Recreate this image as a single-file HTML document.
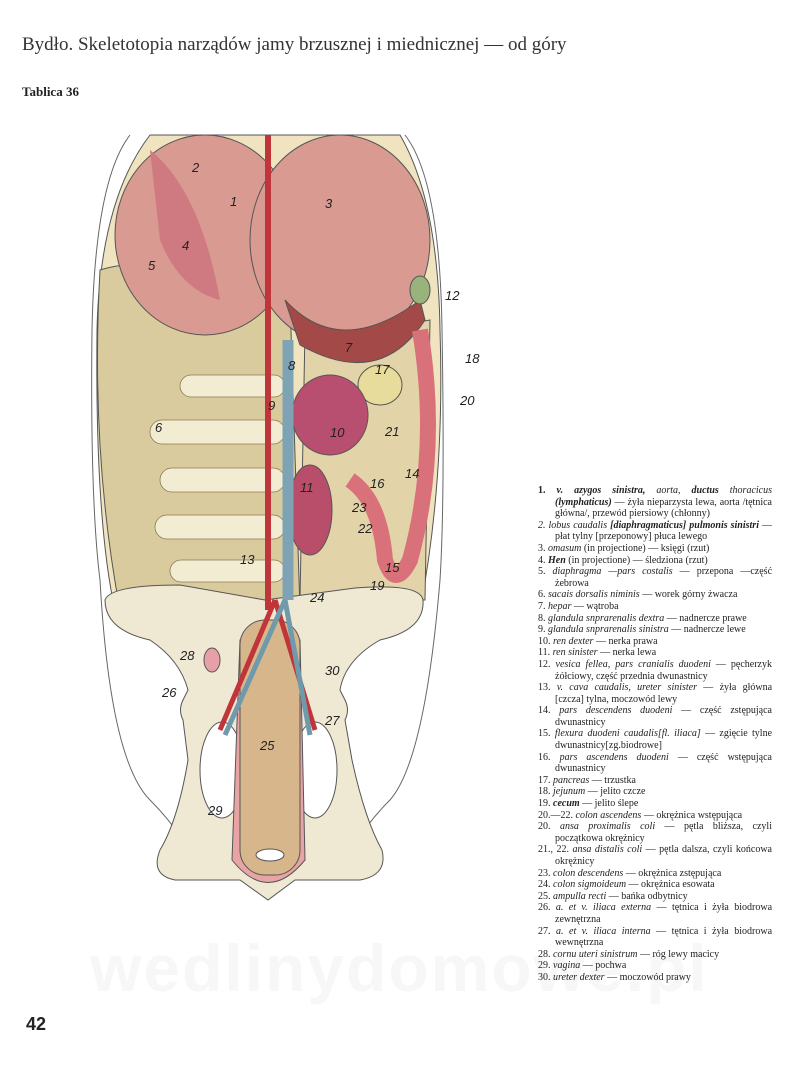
<!DOCTYPE html>
<html><head><meta charset="utf-8"><style>
body{margin:0;width:800px;height:1067px;background:#fff;position:relative;overflow:hidden;font-family:"Liberation Serif",serif;color:#222}
.t{position:absolute;left:22px;top:34px;font-size:19px;color:#333}
.tb{position:absolute;left:22px;top:84px;font-size:13px;font-weight:bold}
.pg{position:absolute;left:26px;top:1014px;font:bold 18px "Liberation Sans",sans-serif}
.lg{position:absolute;left:538px;top:485px;width:234px;font-size:10px;line-height:11.6px;text-align:justify}
.lg div{padding-left:17px;text-indent:-17px}
.wm{position:absolute;left:90px;top:930px;font:bold 66px "Liberation Sans",sans-serif;color:#f7f7f7;letter-spacing:2px}
</style></head><body>
<div class="wm">wedlinydomowe.pl</div>
<div class="t">Bydło. Skeletotopia narządów jamy brzusznej i miednicznej — od góry</div>
<div class="tb">Tablica 36</div>
<svg style="position:absolute;left:0;top:0" width="800" height="1067">
<g fill="none" stroke="#666" stroke-width="1">
<path d="M130 135 Q95 180 92 330 Q90 500 100 580 Q110 760 150 800 Q190 840 200 880"/>
<path d="M405 135 Q440 180 442 330 Q445 500 440 580 Q425 760 390 800 Q350 840 340 880"/>
</g>
<g stroke="#555" stroke-width="1">
<path d="M150 135 Q100 200 97 330 Q95 520 115 610 L420 610 Q445 480 440 330 Q438 200 400 135 Z" fill="#efe3c0"/>
<path d="M100 270 Q160 250 290 300 L300 610 L120 610 Q90 450 100 270Z" fill="#d9cb9e"/>
<g fill="#f2ecd2" stroke="#8a7a55" stroke-width="0.8">
<rect x="180" y="375" width="105" height="22" rx="11"/>
<rect x="150" y="420" width="135" height="24" rx="12"/>
<rect x="160" y="468" width="125" height="24" rx="12"/>
<rect x="155" y="515" width="130" height="24" rx="12"/>
<rect x="170" y="560" width="115" height="22" rx="11"/>
</g>
<path d="M305 330 Q380 330 430 320 L425 600 L300 600Z" fill="#e3d3a8"/>
<ellipse cx="205" cy="235" rx="90" ry="100" fill="#d99a92"/>
<ellipse cx="340" cy="240" rx="90" ry="105" fill="#d99a92"/>
<path d="M285 300 Q340 360 420 300 L425 320 Q380 390 300 345Z" fill="#a34a48"/>
<path d="M150 150 Q200 190 220 300 Q180 290 160 240Z" fill="#cf7a80" stroke="none"/>
<ellipse cx="380" cy="385" rx="22" ry="20" fill="#e8dc9c"/>
<ellipse cx="330" cy="415" rx="38" ry="40" fill="#b84e70"/>
<ellipse cx="310" cy="510" rx="22" ry="45" fill="#b84e6a"/>
<path d="M420 330 Q440 450 410 560 Q395 590 385 560 Q380 500 350 480" fill="none" stroke="#d9717a" stroke-width="16"/>
<ellipse cx="420" cy="290" rx="10" ry="14" fill="#9ab37c"/>
<path d="M105 600 Q110 585 180 585 L265 600 L355 588 Q420 583 423 600 Q425 630 380 640 Q345 660 340 690 L345 700 Q350 710 345 720 L352 760 Q365 820 382 850 Q388 875 360 880 L295 880 L268 900 L240 880 L175 880 Q150 875 160 850 Q178 820 188 760 L183 720 Q178 710 183 700 L188 690 Q180 660 150 640 Q105 630 105 600Z" fill="#efe8d3"/>
<ellipse cx="222" cy="770" rx="22" ry="48" fill="#fff"/>
<ellipse cx="315" cy="770" rx="22" ry="48" fill="#fff"/>
<path d="M240 640 L232 860 Q268 905 305 860 L300 640Z" fill="#e8a4a4"/>
<rect x="240" y="620" width="60" height="255" rx="25" fill="#d8b68c"/>
<path d="M268 135 L268 610" stroke="#c0353a" stroke-width="6"/>
<path d="M288 340 L288 600" stroke="#7ea3b5" stroke-width="11"/>
<path d="M275 600 L220 730 M275 600 L315 730" stroke="#c0353a" stroke-width="5" fill="none"/>
<path d="M285 600 L225 735 M285 600 L310 735" stroke="#6f9aac" stroke-width="5" fill="none"/>
<ellipse cx="212" cy="660" rx="8" ry="12" fill="#e8a0a8"/>
<ellipse cx="270" cy="855" rx="14" ry="6" fill="#fff"/>
</g>
<g font-family="Liberation Sans,sans-serif" font-style="italic" font-size="13" fill="#222">
<text x="192" y="172">2</text><text x="230" y="206">1</text><text x="325" y="208">3</text>
<text x="182" y="250">4</text><text x="148" y="270">5</text><text x="445" y="300">12</text>
<text x="345" y="352">7</text><text x="465" y="363">18</text><text x="288" y="370">8</text>
<text x="375" y="374">17</text><text x="460" y="405">20</text><text x="268" y="410">9</text>
<text x="155" y="432">6</text><text x="330" y="437">10</text><text x="385" y="436">21</text>
<text x="405" y="478">14</text><text x="300" y="492">11</text><text x="370" y="488">16</text>
<text x="352" y="512">23</text><text x="358" y="533">22</text><text x="240" y="564">13</text>
<text x="385" y="572">15</text><text x="310" y="602">24</text><text x="370" y="590">19</text>
<text x="180" y="660">28</text><text x="325" y="675">30</text><text x="162" y="697">26</text>
<text x="325" y="725">27</text><text x="260" y="750">25</text><text x="208" y="815">29</text>
</g>
</svg>
<div class="lg">
<div><b>1.</b> <i><b>v. azygos sinistra,</b> aorta, <b>ductus</b> thoracicus <b>(lymphaticus)</b></i> — żyła nieparzysta lewa, aorta /tętnica główna/, przewód piersiowy (chłonny)</div>
<div><i>2. lobus caudalis <b>[diaphragmaticus] pulmonis sinistri</b></i> — płat tylny [przeponowy] płuca lewego</div>
<div>3. <i>omasum</i> (in projectione) — księgi (rzut)</div>
<div>4. <i><b>Hen</b></i> (in projectione) — śledziona (rzut)</div>
<div>5. <i>diaphragma —pars costalis</i> — przepona —część żebrowa</div>
<div>6. <i>sacais dorsalis niminis</i> — worek górny żwacza</div>
<div>7. <i>hepar</i> — wątroba</div>
<div>8. <i>glandula snprarenalis dextra</i> — nadnercze prawe</div>
<div>9. <i>glandula snprarenalis sinistra</i> — nadnercze lewe</div>
<div>10. <i>ren dexter</i> — nerka prawa</div>
<div>11. <i>ren sinister</i> — nerka lewa</div>
<div>12. <i>vesica fellea, pars cranialis duodeni</i> — pęcherzyk żółciowy, część przednia dwunastnicy</div>
<div>13. <i>v. cava caudalis, ureter sinister</i> — żyła główna [czcza] tylna, moczowód lewy</div>
<div>14. <i>pars descendens duodeni</i> — część zstępująca dwunastnicy</div>
<div>15. <i>flexura duodeni caudalis[fl. iliaca]</i> — zgięcie tylne dwunastnicy[zg.biodrowe]</div>
<div>16. <i>pars ascendens duodeni</i> — część wstępująca dwunastnicy</div>
<div>17. <i>pancreas</i> — trzustka</div>
<div>18. <i>jejunum</i> — jelito czcze</div>
<div>19. <i><b>cecum</b></i> — jelito ślepe</div>
<div>20.—22. <i>colon ascendens</i> — okrężnica wstępująca</div>
<div>20. <i>ansa proximalis coli</i> — pętla bliższa, czyli początkowa okrężnicy</div>
<div>21., 22. <i>ansa distalis coli</i> — pętla dalsza, czyli końcowa okrężnicy</div>
<div>23. <i>colon descendens</i> — okrężnica zstępująca</div>
<div>24. <i>colon sigmoideum</i> — okrężnica esowata</div>
<div>25. <i>ampulla recti</i> — bańka odbytnicy</div>
<div>26. <i>a. et v. iliaca externa</i> — tętnica i żyła biodrowa zewnętrzna</div>
<div>27. <i>a. et v. iliaca interna</i> — tętnica i żyła biodrowa wewnętrzna</div>
<div>28. <i>cornu uteri sinistrum</i> — róg lewy macicy</div>
<div>29. <i>vagina</i> — pochwa</div>
<div>30. <i>ureter dexter</i> — moczowód prawy</div>
</div>
<div class="pg">42</div>
</body></html>
